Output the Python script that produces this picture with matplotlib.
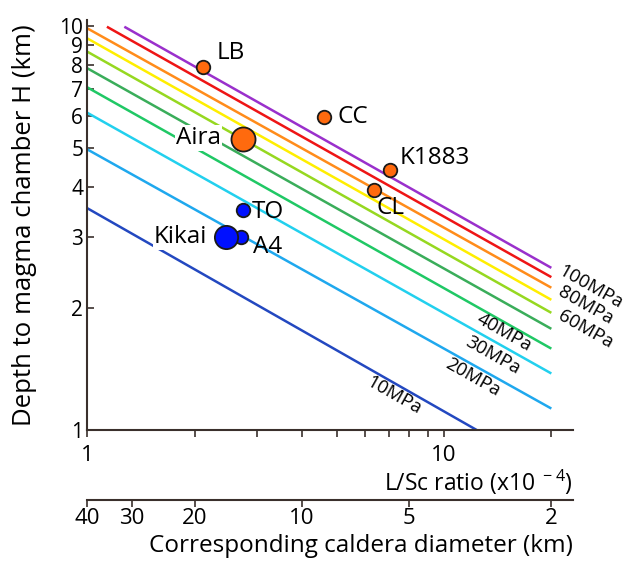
import numpy as np
import matplotlib.pyplot as plt
from matplotlib.ticker import FixedLocator, NullLocator, NullFormatter

plt.rcParams['font.family'] = ['Open Sans', 'DejaVu Sans']
plt.rcParams['mathtext.default'] = 'regular'

# pressure lines: start / end of each line
pressure = [10, 20, 30, 40, 50, 60, 70, 80, 90, 100]
x_start = [1, 1, 1, 1, 1, 1, 1, 1, 1.135, 1.27]
h_start = [3.54, 4.95, 6.10, 7.05, 7.86, 8.64, 9.32, 9.87, 9.96, 9.96]
x_end = [12.35, 20, 20, 20, 20, 20, 20, 20, 20, 20]
h_end = [1.0, 1.13, 1.38, 1.59, 1.78, 1.95, 2.10, 2.25, 2.39, 2.52]
line_colors = ['#2348c0', '#1fa8ee', '#22d0ee', '#20c865', '#3aad5a',
               '#96d820', '#ffee00', '#ff8c1a', '#ee1515', '#9a30cc']

# calderas
names = ['LB', 'CC', 'K1883', 'CL', 'Aira', 'TO', 'A4', 'Kikai']
ratio = [2.11, 4.61, 7.06, 6.36, 2.74, 2.73, 2.69, 2.45]
depth = [7.93, 5.96, 4.40, 3.93, 5.24, 3.50, 3.00, 3.00]
group = ['o', 'o', 'o', 'o', 'o', 'b', 'b', 'b']
big = [False, False, False, False, True, False, False, True]

diam_ticks = [40, 30, 20, 10, 5, 2]

fig = plt.figure(figsize=(6.27, 5.61), dpi=100)
ax = fig.add_axes([87.3/627, 1-430/561, (573-87.3)/627, 410/561])
ax.set_xscale('log')
ax.set_yscale('log')
ax.set_xlim(1, 23.0)
ax.set_ylim(1, 10.35)

for i in range(len(pressure)):
    ax.plot([x_start[i], x_end[i]], [h_start[i], h_end[i]],
            color=line_colors[i], lw=1.8, zorder=2, solid_capstyle='butt')

# MPa labels
mpa_txt = ['10MPa', '20MPa', '30MPa', '40MPa', '60MPa', '80MPa', '100MPa']
mpa_pos = [(7.24, 1.22), (12.06, 1.35), (13.72, 1.53), (14.73, 1.74),
           (25.0, 1.77), (25.0, 2.03), (25.8, 2.26)]
for t, (px, py) in zip(mpa_txt, mpa_pos):
    ax.text(px, py, t, rotation=-29.5, ha='center', va='center',
            rotation_mode='anchor', fontsize=13.5, clip_on=False, zorder=3)

offsets = [(10, 10), (9.5, 0), (7, 9), (2, -13), (-16, 1), (6.5, -1.5), (9, -7), (-14, 0)]
for i in range(len(names)):
    c = '#ff6a0e' if group[i] == 'o' else '#0010ff'
    s = 300 if big[i] else 95
    if names[i] == 'Kikai':
        s = 280
    ax.scatter(ratio[i], depth[i], s=s, color=c, edgecolor='#1a1a1a', lw=1.3, zorder=5)
    dx, dy = offsets[i]
    ha = 'right' if dx < 0 else 'left'
    bb = None
    if names[i] in ('Aira', 'Kikai'):
        bb = dict(facecolor='white', edgecolor='none', pad=0.5)
    ax.annotate(names[i], (ratio[i], depth[i]), xytext=(dx, dy), textcoords='offset points',
                ha=ha, va='center', fontsize=17.5, zorder=4, bbox=bb)

for s in ['top', 'right']:
    ax.spines[s].set_visible(False)
for s in ['left', 'bottom']:
    ax.spines[s].set_color('#3a302c')
    ax.spines[s].set_linewidth(1.5)

ax.yaxis.set_major_locator(FixedLocator([1, 2, 3, 4, 5, 6, 7, 8, 9, 10]))
ax.yaxis.set_minor_locator(NullLocator())
ax.set_yticklabels(['1', '2', '3', '4', '5', '6', '7', '8', '9', '10'])
ax.tick_params(axis='y', direction='in', length=5, width=1.2, color='#3a302c', labelsize=15, pad=3)

ax.xaxis.set_major_locator(FixedLocator([1, 10]))
ax.xaxis.set_minor_locator(FixedLocator([2, 3, 4, 5, 6, 7, 8, 9, 20]))
ax.xaxis.set_minor_formatter(NullFormatter())
ax.set_xticklabels(['1', '10'])
ax.tick_params(axis='x', which='both', direction='out', length=5, width=1.2, color='#3a302c',
               labelsize=16, pad=6)

ax.set_ylabel('Depth to magma chamber H (km)', fontsize=18.5)
ax.yaxis.set_label_coords(-0.103, 0.5)
ax.text(1.0, -0.127, 'L/Sc ratio (x10$^{\\ -4}$)', transform=ax.transAxes,
        ha='right', va='center', fontsize=16.5)

sec = ax.secondary_xaxis(-0.171, functions=(lambda x: 40/np.where(x == 0, 1e-9, x),
                                            lambda d: 40/np.where(d == 0, 1e-9, d)))
sec.xaxis.set_major_locator(FixedLocator(diam_ticks))
sec.xaxis.set_minor_locator(NullLocator())
sec.set_xticklabels([str(d) for d in diam_ticks])
sec.spines['bottom'].set_color('#3a302c')
sec.spines['bottom'].set_linewidth(1.5)
sec.tick_params(axis='x', direction='out', length=5, width=1.2, color='#3a302c', labelsize=16, pad=1)
ax.text(1.0, -0.282, 'Corresponding caldera diameter (km)', transform=ax.transAxes,
        ha='right', va='center', fontsize=17.5)

fig.savefig('out.png', dpi=100)
